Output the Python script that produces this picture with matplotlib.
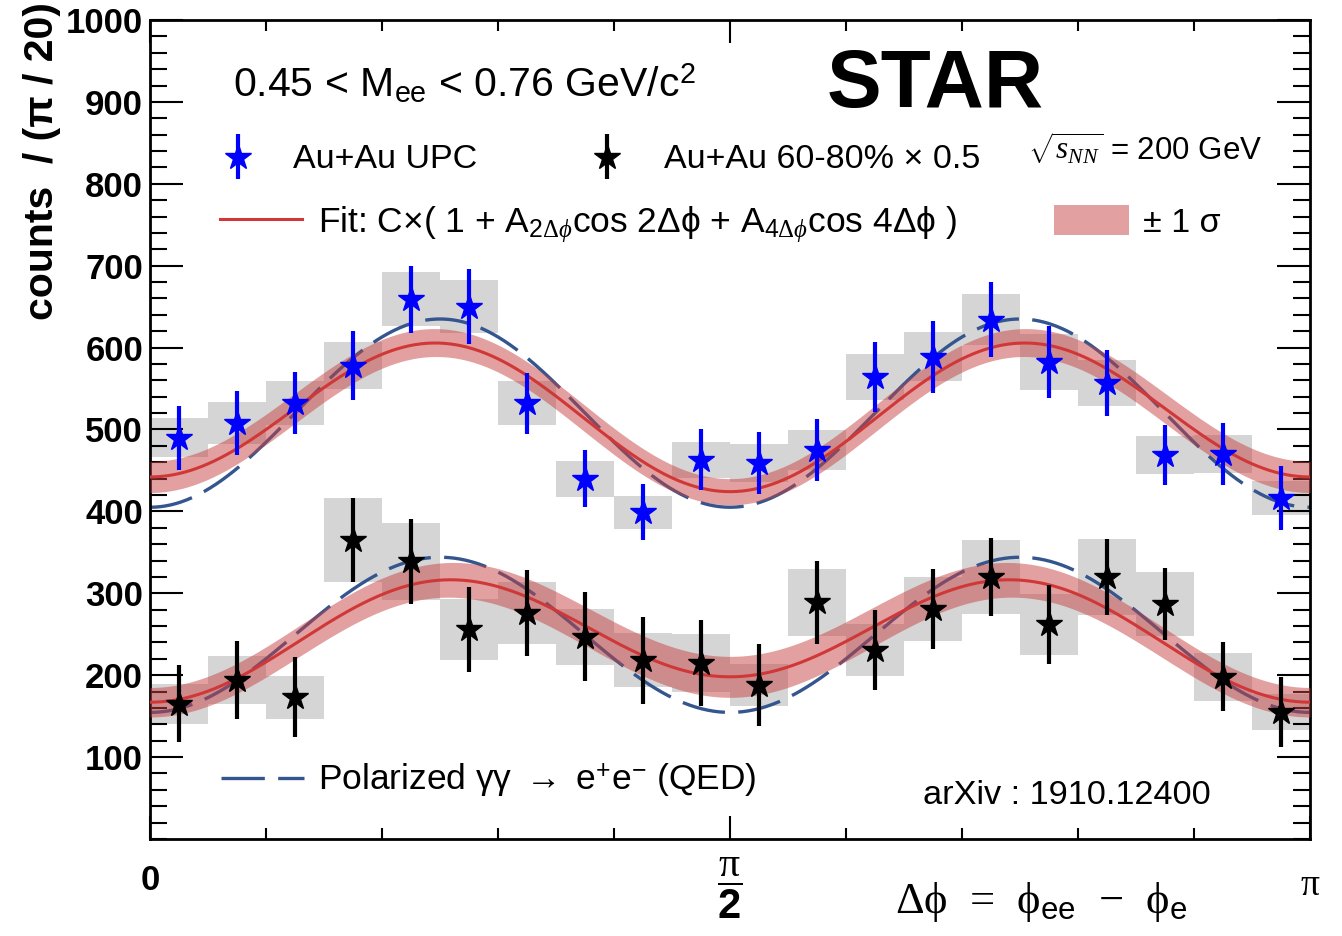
import numpy as np
import matplotlib
matplotlib.use('Agg')
import matplotlib.pyplot as plt
from matplotlib.legend import Legend
from matplotlib.legend_handler import HandlerErrorbar
from matplotlib.container import ErrorbarContainer
from matplotlib.patches import Patch

plt.rcParams['font.family'] = ['Liberation Sans', 'DejaVu Sans']
plt.rcParams['mathtext.fontset'] = 'custom'
plt.rcParams['mathtext.rm'] = 'Liberation Serif'
plt.rcParams['mathtext.it'] = 'Liberation Serif:italic'
plt.rcParams['mathtext.bf'] = 'Liberation Sans:bold'
plt.rcParams['mathtext.sf'] = 'Liberation Sans'

# ---- data (20 bins of pi/20) ----
n_bins = 20
upc_counts = [490, 508, 532, 578, 659, 650, 532, 440, 399, 463,
              459, 475, 564, 589, 634, 582, 557, 469, 470, 416]
upc_stat = [39, 39, 38, 42, 41, 46, 37, 35, 34, 37,
            38, 38, 43, 44, 46, 44, 40, 37, 38, 39]
upc_sys = [24, 26, 27, 29, 33, 32, 27, 22, 20, 22,
           23, 24, 28, 30, 31, 34, 28, 23, 23, 21]

per_counts = [165, 194, 173, 365, 339, 256, 276, 247, 218, 215,
              188, 289, 231, 281, 320, 262, 320, 287, 198, 155]
per_stat = [47, 48, 49, 51, 52, 52, 53, 54, 53, 52,
            50, 51, 49, 49, 48, 48, 46, 44, 42, 43]
per_sys = [24, 29, 26, 51, 47, 37, 38, 34, 33, 35,
           26, 41, 32, 39, 45, 37, 46, 39, 29, 22]

# fit parameters (C, A_2dphi, A_4dphi), with +-1 sigma envelopes
upc_fit = (519.3, 0.0173, -0.166)
upc_fit_hi = (536.8, 0.0196, -0.1607)
upc_fit_lo = (502.3, 0.0149, -0.1727)
per_fit = (249.3, -0.0622, -0.2678)
per_fit_hi = (270.5, -0.0702, -0.2458)
per_fit_lo = (228.0, -0.0526, -0.2939)
# QED expectation
upc_qed = (520.0, 0.0, -0.221)
per_qed = (249.3, 0.0, -0.380)


def model(p, x):
    c, a2, a4 = p
    return c * (1 + a2 * np.cos(2 * x) + a4 * np.cos(4 * x))


W, H = 1342, 936
fig = plt.figure(figsize=(W / 100, H / 100), dpi=100)
ax = fig.add_axes([150 / W, 1 - 839 / H, 1160 / W, 819 / H])


def ax_x(px):
    return (px - 150) / 1160


def ax_y(py):
    return (839 - py) / 819


phi = (np.arange(n_bins) + 0.5) * np.pi / n_bins
bw = np.pi / n_bins
grid = np.linspace(0, np.pi, 600)

box_color = '#d5d5d5'
qed_color = '#34558e'
fit_color = '#d03838'
band_color = '#c74343'

# systematic boxes
for y, s in [(upc_counts, upc_sys), (per_counts, per_sys)]:
    y = np.array(y, float)
    s = np.array(s, float)
    ax.bar(phi, 2 * s, bottom=y - s, width=bw, color=box_color, linewidth=0, zorder=1)

# QED curves
for p in [upc_qed, per_qed]:
    qed_line, = ax.plot(grid, model(p, grid), color=qed_color, lw=2.4, dashes=(13, 4), zorder=2)

# fit bands + fit lines
for p, lo, hi in [(upc_fit, upc_fit_lo, upc_fit_hi), (per_fit, per_fit_lo, per_fit_hi)]:
    ax.fill_between(grid, model(lo, grid), model(hi, grid), color=band_color, alpha=0.5, lw=0, zorder=3)
    fit_line, = ax.plot(grid, model(p, grid), color=fit_color, lw=2.2, zorder=4)

# data points
upc_eb = ax.errorbar(phi, upc_counts, yerr=upc_stat, fmt='*', color='#0000ff', ms=19,
                     mec='#0000ff', elinewidth=3, capsize=0, zorder=5)
per_eb = ax.errorbar(phi, per_counts, yerr=per_stat, fmt='*', color='black', ms=19,
                     mec='black', elinewidth=3, capsize=0, zorder=5)

# axes style
ax.set_xlim(0, np.pi)
ax.set_ylim(0, 1000)
ax.set_yticks(np.arange(100, 1001, 100))
ax.set_yticks(np.arange(0, 1001, 20), minor=True)
ax.set_xticks([0, np.pi / 2, np.pi])
ax.set_xticks(np.arange(0, 11) * np.pi / 10, minor=True)
ax.set_xticklabels([])
for s in ax.spines.values():
    s.set_linewidth(2)
ax.tick_params(axis='both', which='both', direction='in', top=True, right=True, width=1.5)
ax.tick_params(axis='y', which='major', length=24, labelsize=25, pad=5)
ax.tick_params(axis='y', which='minor', length=12)
ax.tick_params(axis='x', which='major', length=16.5)
ax.tick_params(axis='x', which='minor', length=8)
for lbl in ax.get_yticklabels():
    lbl.set_fontweight('bold')

# x tick labels
xt = ax.get_xaxis_transform()
ax.text(0, ax_y(880), '0', transform=xt, ha='center', va='center', fontsize=25, fontweight='bold')
ax.text(np.pi / 2, ax_y(888), r'$\dfrac{\mathrm{\pi}}{\mathbf{2}}$', transform=xt,
        ha='center', va='center', fontsize=30)
ax.text(np.pi, ax_y(886), 'π', transform=xt, ha='center', va='center', fontsize=27,
        family=['Liberation Serif', 'DejaVu Serif'])

# axis titles
fig.text(42 / W, 1 - 2 / H, 'counts  / (π / 20)', rotation=90, ha='center', va='top',
         fontsize=29.5, fontweight='bold')
fig.text(895 / W, 1 - 913 / H, 'Δϕ  =  ϕ$_{\\mathsf{ee}}$  −  ϕ$_{\\mathsf{e}}$', ha='left', va='baseline',
         fontsize=32, family=['Liberation Serif', 'DejaVu Serif'])

# annotations
fig.text(233 / W, 1 - 97 / H, '0.45 < M$_{\\mathsf{ee}}$ < 0.76 GeV/c$^{\\mathsf{2}}$',
         ha='left', va='baseline', fontsize=29.5)
fig.text(827 / W, 1 - 107 / H, 'STAR', ha='left', va='baseline', fontsize=59, fontweight='bold')
fig.text(1028 / W, 1 - 160 / H, r'$\sqrt{s_{NN}}$ = 200 GeV', ha='left', va='baseline', fontsize=22.5)
fig.text(923 / W, 1 - 804 / H, 'arXiv : 1910.12400', ha='left', va='baseline', fontsize=24.7)

# legends
common = dict(frameon=False, loc='center left', borderpad=0, borderaxespad=0,
              handler_map={ErrorbarContainer: HandlerErrorbar(yerr_size=0.65)})
band_patch = Patch(facecolor=band_color, alpha=0.5, lw=0)
legends = [
    Legend(ax, [upc_eb], ['Au+Au UPC'], bbox_to_anchor=(ax_x(204), ax_y(160)),
           fontsize=24.5, handlelength=2, handletextpad=0.62, **common),
    Legend(ax, [per_eb], ['Au+Au 60-80% × 0.5'], bbox_to_anchor=(ax_x(573), ax_y(160)),
           fontsize=24.5, handlelength=2, handletextpad=0.68, **common),
    Legend(ax, [fit_line], ['Fit: C×( 1 + A$_{\\mathsf{2}\\Delta\\phi}$cos 2Δϕ + A$_{\\mathsf{4}\\Delta\\phi}$cos 4Δϕ )'],
           bbox_to_anchor=(ax_x(220), ax_y(224)), fontsize=25.5,
           handlelength=2.31, handletextpad=0.45, **common),
    Legend(ax, [band_patch], ['± 1 σ'], bbox_to_anchor=(ax_x(1054), ax_y(222)),
           fontsize=24.5, handlelength=2.2, handleheight=0.97, handletextpad=0.41, **common),
    Legend(ax, [qed_line], ['Polarized γγ $\\rightarrow$ e$^{\\mathsf{+}}$e$^{\\mathsf{-}}$ (QED)'],
           bbox_to_anchor=(ax_x(221), ax_y(781)), fontsize=25.5,
           handlelength=2.35, handletextpad=0.4, **common),
]
for leg in legends:
    ax.add_artist(leg)

fig.savefig('out.png', dpi=100)
